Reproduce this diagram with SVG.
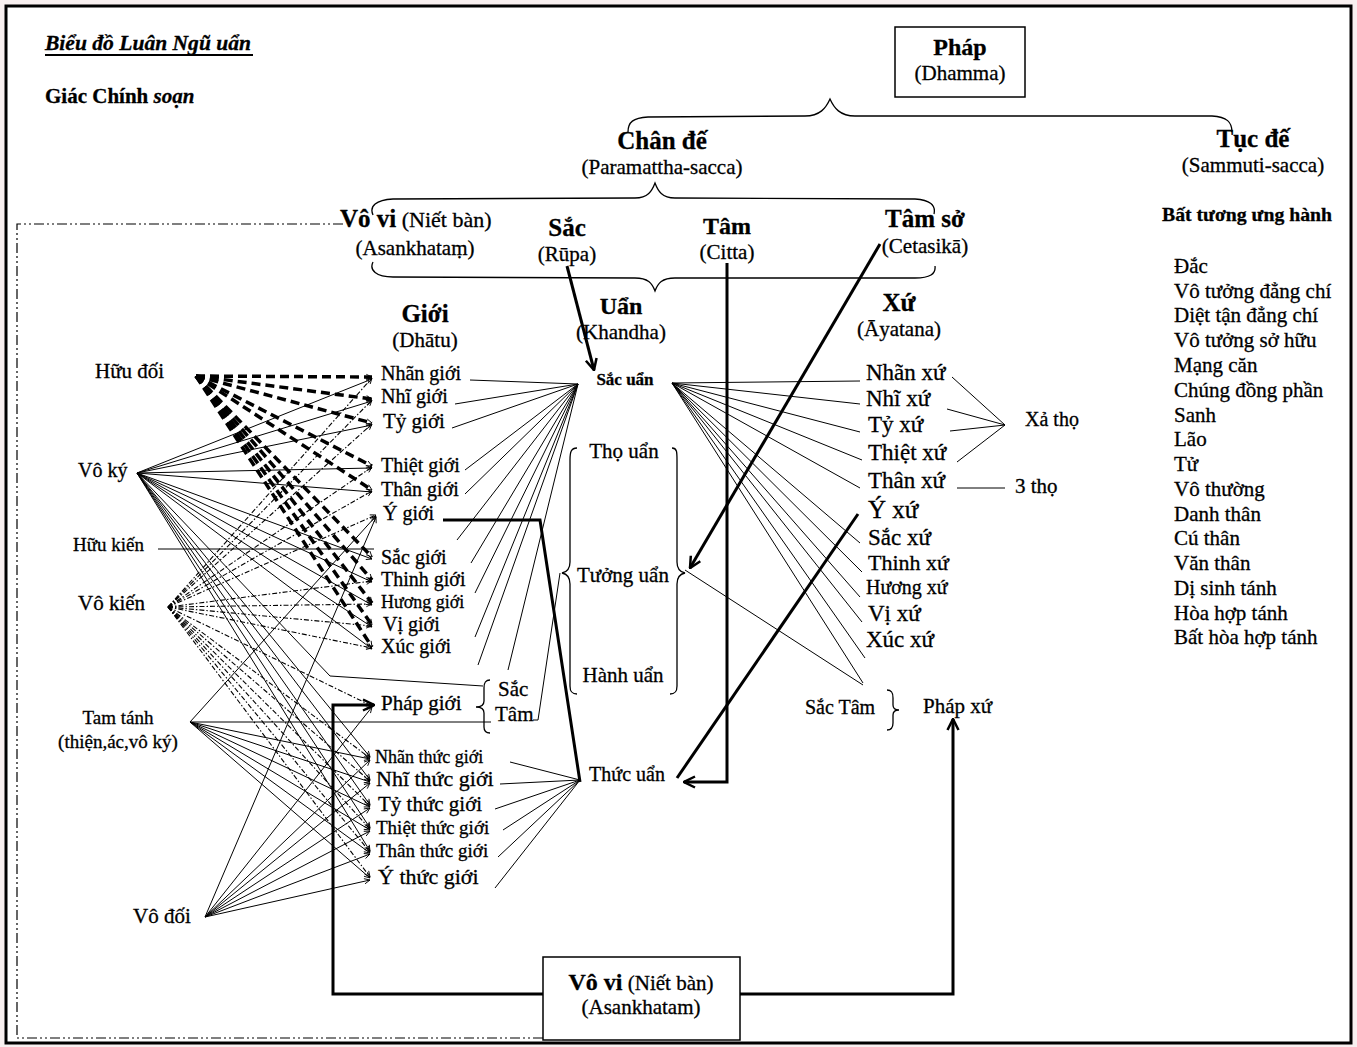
<svg xmlns="http://www.w3.org/2000/svg" width="1357" height="1047" viewBox="0 0 1357 1047">
<defs>
<style>
text{font-family:"Liberation Serif","Times New Roman",serif;fill:#000;stroke:#000;stroke-width:0.3}
.b{font-weight:bold}
.i{font-style:italic}
.m{text-anchor:middle}
.ln{stroke:#000;stroke-width:1;fill:none}
.tk{stroke:#000;stroke-width:3;fill:none}
.hd{stroke:#000;stroke-width:3.5;stroke-dasharray:9 5;fill:none}
.dd{stroke:#000;stroke-width:1.1;stroke-dasharray:5 2 1.5 2;fill:none}
.fr{stroke:#000;stroke-width:1.2;stroke-dasharray:10 3 2 3 2 3;fill:none}
.br{stroke:#000;stroke-width:1.3;fill:none}
.box{fill:#fff;stroke:#000;stroke-width:1.5}
</style>
<marker id="ah" viewBox="0 0 14 14" refX="13" refY="7" markerWidth="14" markerHeight="14" markerUnits="userSpaceOnUse" orient="auto"><path d="M2,1.5 L13,7 L2,12.5" fill="none" stroke="#000" stroke-width="2.5"/></marker>
<marker id="sa" viewBox="0 0 8 8" refX="7.5" refY="4" markerWidth="7" markerHeight="7" markerUnits="userSpaceOnUse" orient="auto"><path d="M1,1 L7.5,4 L1,7" fill="none" stroke="#000" stroke-width="1"/></marker>
</defs>
<rect x="0" y="0" width="1357" height="1047" fill="#f8f0f0"/>
<rect x="6" y="6" width="1345" height="1037" fill="#fff" stroke="#000" stroke-width="3"/>

<g id="connectors">
<path class="fr" d="M343,224 L17,224 L17,1038 L545,1038"/>
<path class="br" d="M628,132 C628,122 633,118 648,117 L805,116 C820,116 826,108 830,99 C834,108 840,116 855,116 L1212,116 C1227,117 1232,122 1232,132"/>
<path class="br" d="M373,215 C369,206 376,200 393,199 L635,198 C648,198 652,191 655,183 C658,191 662,198 675,198 L915,199 C930,200 936,205 934,214"/>
<path class="br" d="M373,262 C369,270 376,277 393,277 L635,278 C648,278 652,283 655,291 C658,283 662,278 675,278 L915,278 C930,278 936,274 935,266"/>
<path class="br" d="M577,448 C571,448 570,452 570,460 L570,562 C570,569 567,572 562,573 C567,574 570,577 570,584 L570,686 C570,692 572,694 577,694"/>
<path class="br" d="M672,448 C677,448 677,452 677,460 L677,562 C677,569 680,572 685,573 C680,574 677,577 677,584 L677,686 C677,692 675,694 670,694"/>
<path class="br" d="M490,680 C485,680 484,683 484,688 L484,701 C484,705 481,707 476,707 C481,707 484,709 484,713 L484,727 C484,731 486,733 490,733"/>
<path class="br" d="M887,690 C892,690 893,693 893,698 L893,705 C893,709 895,710 899,710 C895,710 893,711 893,715 L893,723 C893,728 891,730 887,730"/>

<g class="hd" marker-end="url(#sa)">
<line x1="196" y1="376" x2="372" y2="377"/>
<line x1="196" y1="376" x2="372" y2="399"/>
<line x1="196" y1="376" x2="372" y2="423"/>
<line x1="196" y1="376" x2="372" y2="466"/>
<line x1="196" y1="376" x2="372" y2="490"/>
<line x1="196" y1="376" x2="372" y2="557"/>
<line x1="196" y1="376" x2="372" y2="580"/>
<line x1="196" y1="376" x2="372" y2="603"/>
<line x1="196" y1="376" x2="372" y2="625"/>
<line x1="196" y1="376" x2="372" y2="647"/>
</g>
<g class="ln">
<line x1="137" y1="473" x2="372" y2="379" marker-end="url(#sa)"/>
<line x1="137" y1="473" x2="372" y2="401" marker-end="url(#sa)"/>
<line x1="137" y1="473" x2="372" y2="425" marker-end="url(#sa)"/>
<line x1="137" y1="473" x2="372" y2="468" marker-end="url(#sa)"/>
<line x1="137" y1="473" x2="372" y2="492" marker-end="url(#sa)"/>
<line x1="137" y1="473" x2="372" y2="559" marker-end="url(#sa)"/>
<line x1="137" y1="473" x2="372" y2="582" marker-end="url(#sa)"/>
<line x1="137" y1="473" x2="372" y2="605" marker-end="url(#sa)"/>
<line x1="137" y1="473" x2="372" y2="627" marker-end="url(#sa)"/>
<line x1="137" y1="473" x2="372" y2="649" marker-end="url(#sa)"/>
<line x1="137" y1="473" x2="370" y2="757" marker-end="url(#sa)"/>
<line x1="137" y1="473" x2="370" y2="780" marker-end="url(#sa)"/>
<line x1="137" y1="473" x2="370" y2="805" marker-end="url(#sa)"/>
<line x1="137" y1="473" x2="370" y2="828" marker-end="url(#sa)"/>
<line x1="137" y1="473" x2="370" y2="851" marker-end="url(#sa)"/>
<polyline points="137,473 330,676 483,686"/>
<line x1="158" y1="549" x2="374" y2="549"/>
</g>
<g class="dd" marker-end="url(#sa)">
<line x1="168" y1="607" x2="372" y2="378"/>
<line x1="168" y1="607" x2="372" y2="400"/>
<line x1="168" y1="607" x2="372" y2="424"/>
<line x1="168" y1="607" x2="372" y2="467"/>
<line x1="168" y1="607" x2="372" y2="491"/>
<line x1="168" y1="607" x2="376" y2="515"/>
<line x1="168" y1="607" x2="372" y2="581"/>
<line x1="168" y1="607" x2="372" y2="604"/>
<line x1="168" y1="607" x2="372" y2="626"/>
<line x1="168" y1="607" x2="372" y2="648"/>
<line x1="168" y1="607" x2="372" y2="706"/>
<line x1="168" y1="607" x2="370" y2="758"/>
<line x1="168" y1="607" x2="370" y2="781"/>
<line x1="168" y1="607" x2="370" y2="806"/>
<line x1="168" y1="607" x2="370" y2="829"/>
<line x1="168" y1="607" x2="370" y2="852"/>
<line x1="168" y1="607" x2="370" y2="877"/>
</g>
<g class="ln">
<line x1="190" y1="722" x2="491" y2="722"/>
<line x1="190" y1="722" x2="376" y2="516" marker-end="url(#sa)"/>
<line x1="190" y1="722" x2="370" y2="759" marker-end="url(#sa)"/>
<line x1="190" y1="722" x2="370" y2="782" marker-end="url(#sa)"/>
<line x1="190" y1="722" x2="370" y2="807" marker-end="url(#sa)"/>
<line x1="190" y1="722" x2="370" y2="830" marker-end="url(#sa)"/>
<line x1="190" y1="722" x2="370" y2="853" marker-end="url(#sa)"/>
<line x1="190" y1="722" x2="370" y2="878" marker-end="url(#sa)"/>
</g>
<g class="ln" marker-end="url(#sa)">
<line x1="205" y1="917" x2="376" y2="517"/>
<line x1="205" y1="917" x2="372" y2="707"/>
<line x1="205" y1="917" x2="370" y2="760"/>
<line x1="205" y1="917" x2="370" y2="783"/>
<line x1="205" y1="917" x2="370" y2="808"/>
<line x1="205" y1="917" x2="370" y2="831"/>
<line x1="205" y1="917" x2="370" y2="854"/>
<line x1="205" y1="917" x2="370" y2="880"/>
</g>
<g class="ln">
<line x1="470" y1="380" x2="578" y2="384"/>
<line x1="455" y1="404" x2="578" y2="384"/>
<line x1="452" y1="428" x2="578" y2="384"/>
<line x1="465" y1="470" x2="578" y2="384"/>
<line x1="465" y1="494" x2="578" y2="384"/>
<line x1="457" y1="540" x2="578" y2="384"/>
<line x1="471" y1="563" x2="578" y2="384"/>
<line x1="475" y1="593" x2="578" y2="384"/>
<line x1="475" y1="637" x2="578" y2="384"/>
<line x1="478" y1="665" x2="578" y2="384"/>
<line x1="508" y1="670" x2="578" y2="384"/>
<polyline points="533,720 538,720 560,573"/>
<line x1="510" y1="762" x2="580" y2="780"/>
<line x1="500" y1="784" x2="580" y2="780"/>
<line x1="495" y1="809" x2="580" y2="780"/>
<line x1="503" y1="830" x2="580" y2="780"/>
<line x1="498" y1="857" x2="580" y2="780"/>
<line x1="495" y1="888" x2="580" y2="780"/>
<line x1="672" y1="383" x2="860" y2="381"/>
<line x1="672" y1="383" x2="860" y2="404"/>
<line x1="672" y1="383" x2="860" y2="432"/>
<line x1="672" y1="383" x2="862" y2="460"/>
<line x1="672" y1="383" x2="860" y2="488"/>
<line x1="672" y1="383" x2="860" y2="543"/>
<line x1="672" y1="383" x2="862" y2="572"/>
<line x1="672" y1="383" x2="860" y2="597"/>
<line x1="672" y1="383" x2="862" y2="622"/>
<line x1="672" y1="383" x2="865" y2="658"/>
<line x1="672" y1="383" x2="863" y2="683"/>
<line x1="685" y1="570" x2="863" y2="685"/>
<line x1="952" y1="377" x2="1005" y2="425"/>
<line x1="947" y1="409" x2="1005" y2="425"/>
<line x1="950" y1="431" x2="1005" y2="425"/>
<line x1="957" y1="462" x2="1005" y2="425"/>
<line x1="957" y1="488" x2="1005" y2="488"/>
</g>
<g class="tk">
<line x1="567" y1="266" x2="594" y2="370" marker-end="url(#ah)"/>
<polyline points="727,263 727,782 684,782" marker-end="url(#ah)"/>
<line x1="880" y1="244" x2="690" y2="568" marker-end="url(#ah)"/>
<line x1="858" y1="514" x2="677" y2="778"/>
<polyline points="443,520 540,520 580,782"/>
<polyline points="543,994 333,994 333,705 374,705" marker-end="url(#ah)"/>
<polyline points="740,994 953,994 953,719" marker-end="url(#ah)"/>
</g>
</g>

<g id="title">
<text x="45" y="50" class="b i" font-size="21" textLength="206" lengthAdjust="spacingAndGlyphs">Biểu đồ Luân Ngũ uẩn</text>
<line x1="45" y1="55" x2="253" y2="55" stroke="#000" stroke-width="2"/>
<text x="45" y="103" class="b" font-size="21">Giác Chính <tspan class="i">soạn</tspan></text>
</g>

<g id="phap">
<rect x="895" y="27" width="130" height="70" class="box"/>
<text x="960" y="55" class="b m" font-size="24">Pháp</text>
<text x="960" y="80" class="m" font-size="21">(Dhamma)</text>
</g>
<g id="chan-de"><text x="662" y="149" class="b m" font-size="25">Chân đế</text><text x="662" y="174" class="m" font-size="21">(Paramattha-sacca)</text></g>
<g id="tuc-de"><text x="1253" y="147" class="b m" font-size="25">Tục đế</text><text x="1253" y="172" class="m" font-size="21">(Sammuti-sacca)</text></g>
<g id="vo-vi-top"><text x="340" y="227" font-size="22"><tspan class="b" font-size="25">Vô vi</tspan> (Niết bàn)</text><text x="415" y="255" class="m" font-size="21">(Asankhataṃ)</text></g>
<g id="sac"><text x="567" y="236" class="b m" font-size="25">Sắc</text><text x="567" y="261" class="m" font-size="21">(Rūpa)</text></g>
<g id="tam"><text x="727" y="234" class="b m" font-size="24">Tâm</text><text x="727" y="259" class="m" font-size="21">(Citta)</text></g>
<g id="tam-so"><text x="925" y="227" class="b m" font-size="25">Tâm sở</text><text x="925" y="253" class="m" font-size="21">(Cetasikā)</text></g>
<g id="gioi-h"><text x="425" y="322" class="b m" font-size="25">Giới</text><text x="425" y="347" class="m" font-size="21">(Dhātu)</text></g>
<g id="uan-h"><text x="621" y="314" class="b m" font-size="24">Uẩn</text><text x="621" y="339" class="m" font-size="21">(Khandha)</text></g>
<g id="xu-h"><text x="899" y="311" class="b m" font-size="25">Xứ</text><text x="899" y="336" class="m" font-size="21">(Āyatana)</text></g>

<g id="bat-tuong-ung">
<text x="1162" y="221" class="b" font-size="19" textLength="170" lengthAdjust="spacingAndGlyphs">Bất tương ưng hành</text>
<g font-size="21">
<text x="1174" y="273">Đắc</text>
<text x="1174" y="298">Vô tưởng đẳng chí</text>
<text x="1174" y="322">Diệt tận đẳng chí</text>
<text x="1174" y="347">Vô tưởng sở hữu</text>
<text x="1174" y="372">Mạng căn</text>
<text x="1174" y="397">Chúng đồng phần</text>
<text x="1174" y="422">Sanh</text>
<text x="1174" y="446">Lão</text>
<text x="1174" y="471">Tử</text>
<text x="1174" y="496">Vô thường</text>
<text x="1174" y="521">Danh thân</text>
<text x="1174" y="545">Cú thân</text>
<text x="1174" y="570">Văn thân</text>
<text x="1174" y="595">Dị sinh tánh</text>
<text x="1174" y="620">Hòa hợp tánh</text>
<text x="1174" y="644">Bất hòa hợp tánh</text>
</g>
</g>

<g id="huu-doi"><text x="95" y="378" font-size="21">Hữu đối</text></g>
<g id="vo-ky"><text x="78" y="477" font-size="20">Vô ký</text></g>
<g id="huu-kien"><text x="73" y="551" font-size="19">Hữu kiến</text></g>
<g id="vo-kien"><text x="78" y="610" font-size="21">Vô kiến</text></g>
<g id="tam-tanh"><text x="118" y="724" class="m" font-size="19">Tam tánh</text><text x="118" y="748" class="m" font-size="19">(thiện,ác,vô ký)</text></g>
<g id="vo-doi"><text x="133" y="923" font-size="21">Vô đối</text></g>

<g id="gioi">
<text x="381" y="380" font-size="20">Nhãn giới</text>
<text x="381" y="403" font-size="20">Nhĩ giới</text>
<text x="383" y="428" font-size="21">Tỷ giới</text>
<text x="381" y="472" font-size="20">Thiệt giới</text>
<text x="381" y="496" font-size="20">Thân giới</text>
<text x="383" y="520" font-size="20">Ý giới</text>
<text x="381" y="564" font-size="20">Sắc giới</text>
<text x="381" y="586" font-size="20">Thinh giới</text>
<text x="381" y="608" font-size="18">Hương giới</text>
<text x="383" y="631" font-size="20">Vị giới</text>
<text x="381" y="653" font-size="20">Xúc giới</text>
<text x="381" y="710" font-size="21">Pháp giới</text>
<text x="498" y="696" font-size="21">Sắc</text>
<text x="495" y="721" font-size="21">Tâm</text>
<text x="375" y="763" font-size="18">Nhãn thức giới</text>
<text x="376" y="786" font-size="22">Nhĩ thức giới</text>
<text x="378" y="811" font-size="21">Tỷ thức giới</text>
<text x="376" y="834" font-size="19">Thiệt thức giới</text>
<text x="376" y="857" font-size="19">Thân thức giới</text>
<text x="378" y="884" font-size="22">Ý thức giới</text>
</g>

<g id="uan">
<text x="625" y="385" class="b m" font-size="17">Sắc uẩn</text>
<text x="624" y="458" class="m" font-size="21">Thọ uẩn</text>
<text x="623" y="582" class="m" font-size="21">Tưởng uẩn</text>
<text x="623" y="682" class="m" font-size="21">Hành uẩn</text>
<text x="627" y="781" class="m" font-size="20">Thức uẩn</text>
</g>

<g id="xu">
<text x="866" y="380" font-size="23">Nhãn xứ</text>
<text x="866" y="406" font-size="23">Nhĩ xứ</text>
<text x="868" y="432" font-size="23">Tỷ xứ</text>
<text x="868" y="460" font-size="23">Thiệt xứ</text>
<text x="868" y="488" font-size="23">Thân xứ</text>
<text x="868" y="518" font-size="25">Ý xứ</text>
<text x="868" y="545" font-size="23">Sắc xứ</text>
<text x="868" y="570" font-size="22">Thinh xứ</text>
<text x="866" y="594" font-size="20">Hương xứ</text>
<text x="868" y="621" font-size="23">Vị  xứ</text>
<text x="866" y="647" font-size="23">Xúc xứ</text>
</g>
<g id="xa-tho"><text x="1025" y="426" font-size="20">Xả thọ</text></g>
<g id="ba-tho"><text x="1015" y="493" font-size="21">3 thọ</text></g>
<g id="sac-tam-xu"><text x="805" y="714" font-size="20">Sắc Tâm</text></g>
<g id="phap-xu"><text x="923" y="713" font-size="21">Pháp xứ</text></g>

<g id="vo-vi-bottom">
<rect x="543" y="957" width="197" height="83" class="box"/>
<text x="641" y="990" class="m" font-size="21"><tspan class="b" font-size="24">Vô vi</tspan> (Niết bàn)</text>
<text x="641" y="1014" class="m" font-size="21">(Asankhatam)</text>
</g>
</svg>
